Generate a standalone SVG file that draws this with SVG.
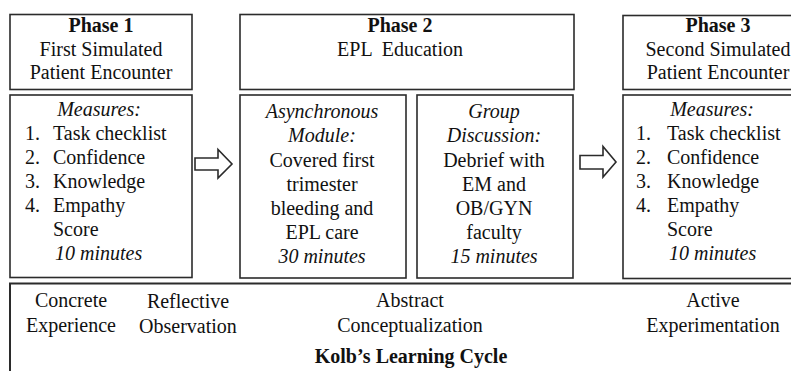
<svg xmlns="http://www.w3.org/2000/svg" width="791" height="371" viewBox="0 0 791 371">
<style>
.box{fill:#fff;stroke:#2b2b2b;stroke-width:1.6}
.arr{fill:#fff;stroke:#2b2b2b;stroke-width:1.6;stroke-linejoin:miter}
text{font-family:"Liberation Serif","Times New Roman",serif;font-size:20px;fill:#111}
.c{text-anchor:middle}
.b{font-weight:bold}
.i{font-style:italic}
</style>
<rect width="791" height="371" fill="#fff"/>
<g id="phase1-header">
<rect class="box" x="10" y="14.5" width="182" height="75"/>
<text class="c b" x="101" y="32">Phase 1</text>
<text class="c" x="101" y="56">First Simulated</text>
<text class="c" x="101" y="79">Patient Encounter</text>
</g>
<g id="phase1-measures">
<rect class="box" x="10" y="95" width="182" height="182.5"/>
<text class="c i" x="99" y="116">Measures:</text>
<text x="25" y="140">1.</text><text x="53" y="140">Task checklist</text>
<text x="25" y="164">2.</text><text x="53" y="164">Confidence</text>
<text x="25" y="188">3.</text><text x="53" y="188">Knowledge</text>
<text x="25" y="212">4.</text><text x="53" y="212">Empathy</text>
<text x="53" y="236">Score</text>
<text class="i" x="55" y="260">10 minutes</text>
</g>
<g id="phase2-header">
<rect class="box" x="240" y="14.5" width="334" height="75"/>
<text class="c b" x="400" y="32">Phase 2</text>
<text class="c" x="400" y="56" xml:space="preserve">EPL  Education</text>
</g>
<g id="phase2-module">
<rect class="box" x="240" y="95" width="166" height="183"/>
<text class="c i" x="322" y="118">Asynchronous</text>
<text class="c i" x="322" y="142">Module:</text>
<text class="c" x="322" y="167">Covered first</text>
<text class="c" x="322" y="191">trimester</text>
<text class="c" x="322" y="215">bleeding and</text>
<text class="c" x="322" y="239">EPL care</text>
<text class="c i" x="322" y="263">30 minutes</text>
</g>
<g id="phase2-discussion">
<rect class="box" x="417" y="95" width="156" height="183"/>
<text class="c i" x="494" y="118">Group</text>
<text class="c i" x="494" y="142">Discussion:</text>
<text class="c" x="494" y="167">Debrief with</text>
<text class="c" x="494" y="191">EM and</text>
<text class="c" x="494" y="215">OB/GYN</text>
<text class="c" x="494" y="239">faculty</text>
<text class="c i" x="494" y="263">15 minutes</text>
</g>
<g id="phase3-header">
<rect class="box" x="623" y="15.5" width="200" height="74"/>
<text class="c b" x="718" y="32">Phase 3</text>
<text class="c" x="718" y="56">Second Simulated</text>
<text class="c" x="718" y="79">Patient Encounter</text>
</g>
<g id="phase3-measures">
<rect class="box" x="623" y="95" width="200" height="183.5"/>
<text class="c i" x="712" y="116">Measures:</text>
<text x="636" y="140">1.</text><text x="667" y="140">Task checklist</text>
<text x="636" y="164">2.</text><text x="667" y="164">Confidence</text>
<text x="636" y="188">3.</text><text x="667" y="188">Knowledge</text>
<text x="636" y="212">4.</text><text x="667" y="212">Empathy</text>
<text x="667" y="236">Score</text>
<text class="i" x="669" y="260">10 minutes</text>
</g>
<g id="kolb-cycle">
<rect class="box" x="10" y="283.5" width="800" height="100" style="stroke-width:2"/>
<text class="c" x="71" y="307">Concrete</text>
<text class="c" x="71" y="332">Experience</text>
<text class="c" x="188" y="308">Reflective</text>
<text class="c" x="188" y="333">Observation</text>
<text class="c" x="410" y="307">Abstract</text>
<text class="c" x="410" y="332">Conceptualization</text>
<text class="c" x="713" y="307">Active</text>
<text class="c" x="713" y="332">Experimentation</text>
<text class="c b" x="411" y="363">Kolb’s Learning Cycle</text>
</g>
<g id="connectors">
<polygon class="arr" points="195,158 218,158 218,149.5 232,164 218,178 218,170 195,170"/>
<polygon class="arr" points="580,155.5 603,155.5 603,146.5 616,162 603,177 603,169 580,169"/>
</g>
</svg>
